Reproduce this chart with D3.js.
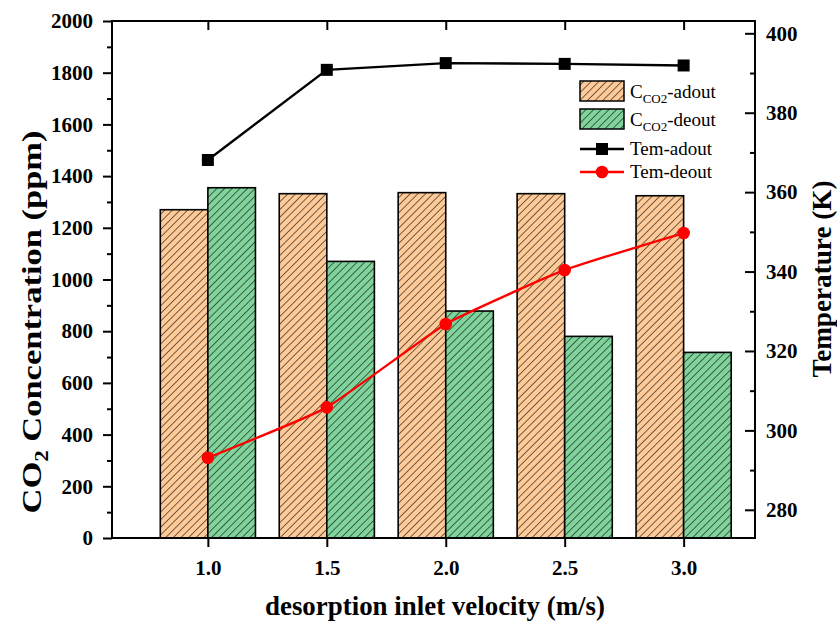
<!DOCTYPE html>
<html>
<head>
<meta charset="utf-8">
<script src="https://cdn.jsdelivr.net/npm/d3@7"></script>
<style>
  body { margin: 0; background: #fff; }
  svg text { font-family: "Liberation Serif", "Times New Roman", serif; font-weight: bold; fill: #000; }
</style>
</head>
<body>
<script>
// chart data
var velocity = [1.0, 1.5, 2.0, 2.5, 3.0];
var co2Adout = [1270, 1332, 1336, 1332, 1324];
var co2Deout = [1355, 1070, 878, 780, 718];
var temAdout = [368.1, 390.8, 392.5, 392.3, 391.9];
var temDeout = [293.1, 305.8, 326.8, 340.4, 349.7];
var leftTicks = [0, 200, 400, 600, 800, 1000, 1200, 1400, 1600, 1800, 2000];
var rightTicks = [280, 300, 320, 340, 360, 380, 400];
var xTicks = ["1.0", "1.5", "2.0", "2.5", "3.0"];

var W = 837, H = 625;
var m = { left: 112, right: 755, top: 21, bottom: 538 };
var barW = 0.2;

var orange = "#fdca98", green = "#80d49b";

var svg = d3.select("body").append("svg")
    .attr("width", W)
    .attr("height", H);

var x = d3.scaleLinear().domain([0.597, 3.3]).range([m.left, m.right]);
var yL = d3.scaleLinear().domain([0, 2000]).range([m.bottom, m.top]);
var yR = d3.scaleLinear().domain([272.9, 403.1]).range([m.bottom, m.top]);

// hatch patterns
var defs = svg.append("defs");
function hatch(id, fill) {
    var p = defs.append("pattern")
        .attr("id", id)
        .attr("patternUnits", "userSpaceOnUse")
        .attr("width", 5.4)
        .attr("height", 5.4)
        .attr("patternTransform", "rotate(45)");
    p.append("rect").attr("width", 5.4).attr("height", 5.4).attr("fill", fill);
    p.append("line")
        .attr("x1", 0).attr("y1", 0).attr("x2", 0).attr("y2", 5.4)
        .attr("stroke", "#000").attr("stroke-width", 1.1);
}
hatch("hatchO", orange);
hatch("hatchG", green);

// bars
svg.selectAll("rect.ad").data(velocity).enter().append("rect")
    .attr("class", "ad")
    .attr("x", function (d) { return x(d - barW); })
    .attr("width", function (d) { return x(d) - x(d - barW); })
    .attr("y", function (d, i) { return yL(co2Adout[i]); })
    .attr("height", function (d, i) { return yL(0) - yL(co2Adout[i]); })
    .attr("fill", "url(#hatchO)")
    .attr("stroke", "#000").attr("stroke-width", 1.6);

svg.selectAll("rect.de").data(velocity).enter().append("rect")
    .attr("class", "de")
    .attr("x", function (d) { return x(d); })
    .attr("width", function (d) { return x(d + barW) - x(d); })
    .attr("y", function (d, i) { return yL(co2Deout[i]); })
    .attr("height", function (d, i) { return yL(0) - yL(co2Deout[i]); })
    .attr("fill", "url(#hatchG)")
    .attr("stroke", "#000").attr("stroke-width", 1.6);

// lines
var lineA = d3.line()
    .x(function (d, i) { return x(velocity[i]); })
    .y(function (d) { return yR(d); });
var lineD = d3.line()
    .x(function (d, i) { return x(velocity[i]); })
    .y(function (d) { return yR(d); })
    .curve(d3.curveCardinal.tension(0.6));

svg.append("path").datum(temAdout).attr("d", lineA)
    .attr("fill", "none").attr("stroke", "#000").attr("stroke-width", 2.4);
svg.selectAll("rect.ma").data(temAdout).enter().append("rect")
    .attr("x", function (d, i) { return x(velocity[i]) - 6; })
    .attr("y", function (d) { return yR(d) - 6; })
    .attr("width", 12).attr("height", 12).attr("fill", "#000");

svg.append("path").datum(temDeout).attr("d", lineD)
    .attr("fill", "none").attr("stroke", "#ff0000").attr("stroke-width", 2.4);
svg.selectAll("circle.md").data(temDeout).enter().append("circle")
    .attr("cx", function (d, i) { return x(velocity[i]); })
    .attr("cy", function (d) { return yR(d); })
    .attr("r", 6.3).attr("fill", "#ff0000");

// frame
svg.append("rect")
    .attr("x", m.left).attr("y", m.top)
    .attr("width", m.right - m.left).attr("height", m.bottom - m.top)
    .attr("fill", "none").attr("stroke", "#000").attr("stroke-width", 2);

// axes
function styleAxis(g) {
    g.select(".domain").remove();
    g.selectAll(".tick line").attr("stroke", "#000").attr("stroke-width", 2);
    g.selectAll(".tick text").style("font-size", "21px");
}

var minorL = d3.range(100, 2000, 200);
svg.append("g").attr("transform", "translate(" + m.left + ",0)")
    .call(d3.axisLeft(yL).tickValues(minorL).tickSize(5).tickFormat(""))
    .call(styleAxis);
svg.append("g").attr("transform", "translate(" + m.left + ",0)")
    .call(d3.axisLeft(yL).tickValues(leftTicks).tickSize(9).tickPadding(10).tickFormat(d3.format("d")))
    .call(styleAxis);

var minorR = d3.range(290, 400, 20);
svg.append("g").attr("transform", "translate(" + m.right + ",0)")
    .call(d3.axisRight(yR).tickValues(minorR).tickSize(-5).tickFormat(""))
    .call(styleAxis);
svg.append("g").attr("transform", "translate(" + m.right + ",0)")
    .call(d3.axisRight(yR).tickValues(rightTicks).tickSize(-10).tickPadding(11).tickFormat(d3.format("d")))
    .call(styleAxis);

svg.append("g").attr("transform", "translate(0," + m.bottom + ")")
    .call(d3.axisBottom(x).tickValues(velocity).tickSize(9).tickPadding(13)
        .tickFormat(function (d, i) { return xTicks[i]; }))
    .call(styleAxis);
svg.append("g").attr("transform", "translate(0," + m.top + ")")
    .call(d3.axisTop(x).tickValues(velocity).tickSize(-9).tickFormat(""))
    .call(styleAxis);

// axis titles
var tl = svg.append("text")
    .attr("transform", "translate(41,322) rotate(-90)")
    .attr("text-anchor", "middle")
    .attr("textLength", 383)
    .attr("lengthAdjust", "spacingAndGlyphs")
    .style("font-size", "27px");
tl.append("tspan").text("CO");
tl.append("tspan").text("2").style("font-size", "18px").attr("dy", 7);
tl.append("tspan").text(" Concentration (ppm)").attr("dy", -7);

svg.append("text")
    .attr("transform", "translate(831,279) rotate(-90)")
    .attr("text-anchor", "middle")
    .attr("textLength", 197)
    .attr("lengthAdjust", "spacingAndGlyphs")
    .style("font-size", "27px")
    .text("Temperature (K)");

svg.append("text")
    .attr("x", 435).attr("y", 615)
    .attr("text-anchor", "middle")
    .attr("textLength", 340)
    .attr("lengthAdjust", "spacingAndGlyphs")
    .style("font-size", "27px")
    .text("desorption inlet velocity (m/s)");

// legend
var lg = svg.append("g");
[["hatchO", "-adout", 81], ["hatchG", "-deout", 109]].forEach(function (e) {
    lg.append("rect").attr("x", 580).attr("y", e[2]).attr("width", 44).attr("height", 20)
        .attr("fill", "url(#" + e[0] + ")").attr("stroke", "#000").attr("stroke-width", 1.5);
    var t = lg.append("text").attr("x", 630).attr("y", e[2] + 17)
        .style("font-size", "19px").style("font-weight", "normal");
    t.append("tspan").text("C");
    t.append("tspan").text("CO2").style("font-size", "13px").attr("dy", 5);
    t.append("tspan").text(e[1]).attr("dy", -5);
});
lg.append("line").attr("x1", 580).attr("x2", 624).attr("y1", 149).attr("y2", 149)
    .attr("stroke", "#000").attr("stroke-width", 2.4);
lg.append("rect").attr("x", 596).attr("y", 143).attr("width", 12).attr("height", 12).attr("fill", "#000");
lg.append("text").attr("x", 630).attr("y", 155).style("font-size", "19px").style("font-weight", "normal")
    .text("Tem-adout");
lg.append("line").attr("x1", 580).attr("x2", 624).attr("y1", 172).attr("y2", 172)
    .attr("stroke", "#ff0000").attr("stroke-width", 2.4);
lg.append("circle").attr("cx", 602).attr("cy", 172).attr("r", 6.3).attr("fill", "#ff0000");
lg.append("text").attr("x", 630).attr("y", 178).style("font-size", "19px").style("font-weight", "normal")
    .text("Tem-deout");
</script>
</body>
</html>
